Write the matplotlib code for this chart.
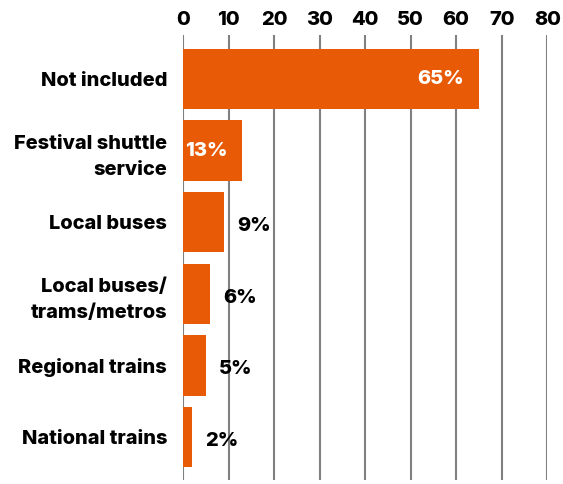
import matplotlib.pyplot as plt

# Transport included with the festival ticket (share of respondents, %)
categories = ["Not included", "Festival shuttle\nservice", "Local buses",
              "Local buses/\ntrams/metros", "Regional trains", "National trains"]
values = [65, 13, 9, 6, 5, 2]
x_ticks = [0, 10, 20, 30, 40, 50, 60, 70, 80]

LARANJA = "#E85A05"
CINZA = "#808080"

plt.rcParams['font.family'] = ['Inter', 'DejaVu Sans']
PESO = 'heavy'
TAM = 14.4

fig = plt.figure(figsize=(5.63, 4.84), dpi=100)
ax = fig.add_axes([0.325, 0.008, 0.647, 0.92])

pos = list(range(len(categories)))
ax.barh(pos, values, height=0.84, color=LARANJA, zorder=3)

ax.set_xlim(0, 80)
ax.set_ylim(len(categories) - 0.4, -0.614)
ax.set_xticks(x_ticks)
ax.set_yticks(pos)
ax.set_yticklabels(categories, fontsize=TAM, fontweight=PESO, linespacing=1.6)
ax.xaxis.tick_top()
ax.tick_params(axis='x', length=0, pad=4.5, labelsize=TAM)
ax.tick_params(axis='y', length=0, pad=11.5)
for lbl in ax.get_xticklabels():
    lbl.set_fontweight(PESO)

ax.grid(axis='x', color=CINZA, linewidth=1.5, zorder=0)
ax.grid(axis='y', visible=False)
for s in ax.spines.values():
    s.set_visible(False)

# Valores: dentro da barra (branco) se couber, senão do lado de fora
for i, v in enumerate(values):
    if v >= 10:
        ax.annotate(f"{v}%", (v, i), xytext=(-15, 0), textcoords='offset pixels',
                    ha='right', va='center', color='white', fontsize=TAM,
                    fontweight=PESO, zorder=4)
    else:
        ax.annotate(f"{v}%", (v, i), xytext=(13, -4), textcoords='offset pixels',
                    ha='left', va='center', color='black', fontsize=TAM,
                    fontweight=PESO, zorder=4)

fig.savefig("out.png", dpi=100)
